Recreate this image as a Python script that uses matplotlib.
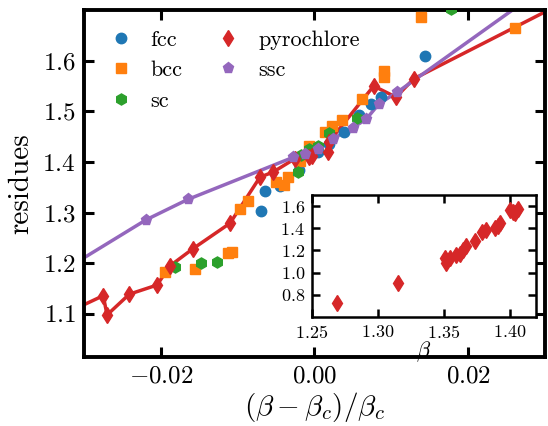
import matplotlib
matplotlib.use("Agg")
import matplotlib.pyplot as plt

plt.rcParams["font.family"] = "serif"
plt.rcParams["font.serif"] = ["cmr10"]
plt.rcParams["mathtext.fontset"] = "cm"
plt.rcParams["axes.formatter.use_mathtext"] = True

# main panel: residues vs reduced coupling
fcc_x = [-0.0069, -0.0065, -0.0045, -0.0020, 0.0004, 0.0019, 0.0039, 0.0058, 0.0073, 0.0086, 0.0144]
fcc_y = [1.304, 1.343, 1.352, 1.385, 1.420, 1.436, 1.459, 1.493, 1.514, 1.528, 1.610]

bcc_x = [-0.0195, -0.0155, -0.0112, -0.0107, -0.0097, -0.0087, -0.0050, -0.0040, -0.0034,
         -0.0019, -0.0007, 0.0014, 0.0023, 0.0036, 0.0062, 0.0090, 0.0090, 0.0139, 0.0261]
bcc_y = [1.183, 1.189, 1.220, 1.222, 1.307, 1.323, 1.361, 1.355, 1.370,
         1.402, 1.432, 1.459, 1.471, 1.483, 1.525, 1.580, 1.568, 1.687, 1.665]

sc_x = [-0.0182, -0.0148, -0.0127, -0.0022, -0.0017, -0.0007, 0.0004, 0.0019, 0.0055, 0.0178]
sc_y = [1.193, 1.200, 1.202, 1.380, 1.414, 1.426, 1.432, 1.457, 1.487, 1.702]

pyro_x = [-0.0320, -0.0275, -0.0270, -0.0241, -0.0205, -0.0188, -0.0158, -0.0110, -0.0071,
          -0.0054, -0.0026, -0.0007, -0.0003, 0.0017, 0.0019, 0.0077, 0.0106, 0.0129, 0.0350]
pyro_y = [1.104, 1.136, 1.098, 1.139, 1.157, 1.195, 1.229, 1.279, 1.370,
          1.380, 1.406, 1.410, 1.412, 1.420, 1.440, 1.550, 1.528, 1.564, 1.735]

ssc_x = [-0.0330, -0.0219, -0.0165, -0.0028, -0.0012, 0.0005, 0.0024, 0.0050, 0.0067, 0.0084, 0.0108, 0.0350]
ssc_y = [1.183, 1.286, 1.326, 1.409, 1.415, 1.425, 1.446, 1.468, 1.484, 1.515, 1.538, 1.800]

# inset: pyrochlore residues vs beta
ins_beta = [1.2689, 1.3151, 1.3510, 1.3518, 1.3551, 1.3596, 1.3620, 1.3647, 1.3670, 1.3740,
            1.3793, 1.3820, 1.3888, 1.3914, 1.3930, 1.4000, 1.4025, 1.4038, 1.4063]
ins_res = [0.73, 0.91, 1.13, 1.09, 1.136, 1.157, 1.172, 1.200, 1.236, 1.281,
           1.362, 1.386, 1.400, 1.420, 1.445, 1.564, 1.550, 1.540, 1.570]

fig = plt.figure(figsize=(5.48, 4.26), dpi=100)
ax = fig.add_axes([0.1533, 0.162, 0.8412, 0.8145])

ax.plot(pyro_x, pyro_y, color="C3", lw=2.5, zorder=2)
ax.plot(ssc_x, ssc_y, color="C4", lw=2.5, zorder=2)
ax.plot(fcc_x, fcc_y, "o", color="C0", ms=7.5, ls="none", label="fcc", zorder=3)
ax.plot(bcc_x, bcc_y, "s", color="C1", ms=7.5, ls="none", label="bcc", zorder=3)
ax.plot(sc_x, sc_y, "h", color="C2", ms=8, ls="none", label="sc", zorder=3)
ax.plot(pyro_x, pyro_y, "d", color="C3", ms=8.5, ls="none", label="pyrochlore", zorder=4)
ax.plot(ssc_x, ssc_y, "p", color="C4", ms=8, ls="none", label="ssc", zorder=4)

ax.set_xlim(-0.03, 0.03)
ax.set_ylim(1.015, 1.70)
ax.set_xticks([-0.02, 0.0, 0.02])
ax.set_yticks([1.1, 1.2, 1.3, 1.4, 1.5, 1.6])
ax.set_xlabel(r"$(\beta-\beta_c)/\beta_c$", fontsize=21, labelpad=2)
ax.set_ylabel("residues", fontsize=21, labelpad=6)
ax.tick_params(direction="in", top=True, right=True, length=7, width=2.2, labelsize=18, pad=6)
for s in ax.spines.values():
    s.set_linewidth(2.8)

ax.legend(loc="upper left", ncol=2, frameon=False, fontsize=16, handletextpad=0.6,
          columnspacing=1.3, labelspacing=0.5, borderaxespad=0.5, handlelength=1.5)

ins = fig.add_axes([0.5693, 0.2559, 0.4088, 0.2864])
ins.plot(ins_beta, ins_res, "d", color="C3", ms=8, ls="none")
ins.set_xlim(1.25, 1.42)
ins.set_ylim(0.6, 1.7)
ins.set_xticks([1.25, 1.30, 1.35, 1.40])
ins.set_yticks([0.8, 1.0, 1.2, 1.4, 1.6])
ins.set_xlabel(r"$\beta$", fontsize=16, labelpad=-1)
ins.tick_params(direction="in", top=True, right=True, length=6, width=1.8, labelsize=13, pad=5)
for s in ins.spines.values():
    s.set_linewidth(1.8)

fig.savefig("out.png", dpi=100)
